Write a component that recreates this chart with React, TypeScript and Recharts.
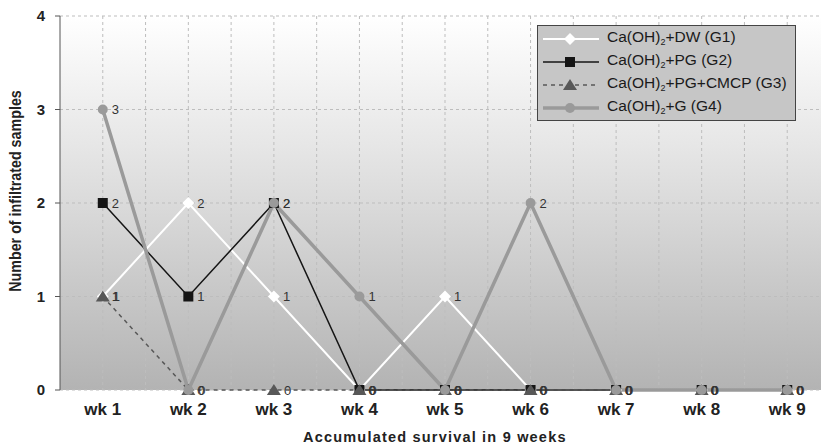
import React from 'react'
import { LineChart, Line, XAxis, YAxis, CartesianGrid, LabelList } from 'recharts'

const weeks = ['wk 1', 'wk 2', 'wk 3', 'wk 4', 'wk 5', 'wk 6', 'wk 7', 'wk 8', 'wk 9']
const g1 = [1, 2, 1, 0, 1, 0, 0, 0, 0]
const g2 = [2, 1, 2, 0, 0, 0, 0, 0, 0]
const g3 = [1, 0, 0, 0, 0, 0, 0, 0, 0]
const g4 = [3, 0, 2, 1, 0, 2, 0, 0, 0]
const yTicks = [0, 1, 2, 3, 4]

const data = weeks.map((wk, i) => ({ wk, g1: g1[i], g2: g2[i], g3: g3[i], g4: g4[i] }))

const FONT = "'Liberation Sans', Arial, sans-serif"

const diamond = (p: any) => {
  const { cx, cy, index } = p
  return <polygon key={'d' + index} points={`${cx},${cy - 6} ${cx + 6},${cy} ${cx},${cy + 6} ${cx - 6},${cy}`} fill="#fff" />
}
const square = (p: any) => {
  const { cx, cy, index } = p
  return <rect key={'s' + index} x={cx - 5} y={cy - 5} width={10} height={10} fill="#151515" />
}
const triangle = (p: any) => {
  const { cx, cy, index } = p
  return <polygon key={'t' + index} points={`${cx},${cy - 6} ${cx + 7},${cy + 5} ${cx - 7},${cy + 5}`} fill="#585858" />
}
const circle = (p: any) => {
  const { cx, cy, index } = p
  return <circle key={'c' + index} cx={cx} cy={cy} r={5} fill="#9a9a9a" />
}

const legendItems = [
  { name: 'DW (G1)', color: '#fff', width: 2, dash: undefined, marker: 'diamond' },
  { name: 'PG (G2)', color: '#151515', width: 1.5, dash: undefined, marker: 'square' },
  { name: 'PG+CMCP (G3)', color: '#585858', width: 1.5, dash: '4 4', marker: 'triangle' },
  { name: 'G (G4)', color: '#9a9a9a', width: 3.5, dash: undefined, marker: 'circle' },
]

function Sample({ item }: { item: any }) {
  const cx = 27
  const cy = 7
  let m: React.ReactNode = null
  if (item.marker === 'diamond') m = diamond({ cx, cy, index: 0 })
  if (item.marker === 'square') m = square({ cx, cy, index: 0 })
  if (item.marker === 'triangle') m = triangle({ cx, cy, index: 0 })
  if (item.marker === 'circle') m = circle({ cx, cy, index: 0 })
  return (
    <svg width={56} height={14} style={{ display: 'block' }}>
      <line x1={0} y1={cy} x2={56} y2={cy} stroke={item.color} strokeWidth={item.width} strokeDasharray={item.dash} />
      {m}
    </svg>
  )
}

export default function App() {
  const label = (dx: number) => ({
    position: 'right' as const,
    offset: dx,
    fill: '#333',
    fontSize: 13,
    fontFamily: FONT,
  })

  return (
    <div style={{ position: 'fixed', left: 0, top: 0, width: 821, height: 447, overflow: 'hidden', background: '#fff' }}>
      <LineChart width={840} height={447} data={data} margin={{ top: 16, right: 10, left: 0, bottom: 0 }}>
        <defs>
          <linearGradient id="bgGrad" x1="0" y1="0" x2="0" y2="1">
            <stop offset="0%" stopColor="#ffffff" />
            <stop offset="35%" stopColor="#e6e6e6" />
            <stop offset="100%" stopColor="#b3b3b3" />
          </linearGradient>
        </defs>
        <CartesianGrid
          fill="url(#bgGrad)"
          stroke="#bdbdbd"
          strokeDasharray="3 3"
          verticalCoordinatesGenerator={({ offset }: any) =>
            Array.from({ length: 17 }, (_, k) => offset.left + ((k + 1) * offset.width) / 18)
          }
        />
        <XAxis
          dataKey="wk"
          scale="band"
          height={57}
          axisLine={false}
          tickLine={false}
          tickSize={0}
          tickMargin={13}
          tick={{ fill: '#222', fontSize: 17, fontWeight: 'bold', fontFamily: FONT }}
        />
        <YAxis
          width={60}
          domain={[0, 4]}
          ticks={yTicks}
          interval={0}
          axisLine={{ stroke: '#555' }}
          tickLine={{ stroke: '#555' }}
          tickSize={5}
          tickMargin={10}
          tick={{ fill: '#222', fontSize: 15, fontWeight: 'bold', fontFamily: FONT }}
        />
        <Line type="linear" dataKey="g1" stroke="#fff" strokeWidth={2} dot={diamond} activeDot={false} isAnimationActive={false}>
          <LabelList dataKey="g1" {...label(9)} />
        </Line>
        <Line type="linear" dataKey="g2" stroke="#151515" strokeWidth={1.5} dot={square} activeDot={false} isAnimationActive={false}>
          <LabelList dataKey="g2" {...label(9)} />
        </Line>
        <Line type="linear" dataKey="g3" stroke="#585858" strokeWidth={1.5} strokeDasharray="4 4" dot={triangle} activeDot={false} isAnimationActive={false}>
          <LabelList dataKey="g3" {...label(10)} />
        </Line>
        <Line type="linear" dataKey="g4" stroke="#9a9a9a" strokeWidth={3.5} dot={circle} activeDot={false} isAnimationActive={false}>
          <LabelList dataKey="g4" {...label(9)} />
        </Line>
      </LineChart>

      <div
        style={{
          position: 'absolute',
          left: 537,
          top: 25,
          width: 257,
          height: 94,
          background: '#c6c6c6',
          border: '1px solid #444',
          boxSizing: 'content-box',
        }}
      >
        {legendItems.map((it, i) => (
          <div key={i} style={{ position: 'absolute', left: 5, top: 6 + i * 23, display: 'flex', alignItems: 'center', height: 14 }}>
            <Sample item={it} />
            <span style={{ marginLeft: 8, fontFamily: FONT, fontSize: 15.5, color: '#1a1a1a', whiteSpace: 'nowrap', lineHeight: '14px' }}>
              Ca(OH)<sub style={{ fontSize: 9, verticalAlign: -3 }}>2</sub>+{it.name}
            </span>
          </div>
        ))}
      </div>

      <div
        style={{
          position: 'absolute',
          left: 16,
          top: 191,
          transform: 'translate(-50%, -50%) rotate(-90deg) scaleX(0.84)',
          fontFamily: FONT,
          fontWeight: 'bold',
          fontSize: 17,
          color: '#222',
          whiteSpace: 'nowrap',
        }}
      >
        Number of infiltrated samples
      </div>

      <div
        style={{
          position: 'absolute',
          left: 303,
          top: 429,
          fontFamily: FONT,
          fontWeight: 'bold',
          fontSize: 14.5,
          letterSpacing: 1.2,
          color: '#222',
          whiteSpace: 'nowrap',
        }}
      >
        Accumulated survival in 9 weeks
      </div>
    </div>
  )
}
